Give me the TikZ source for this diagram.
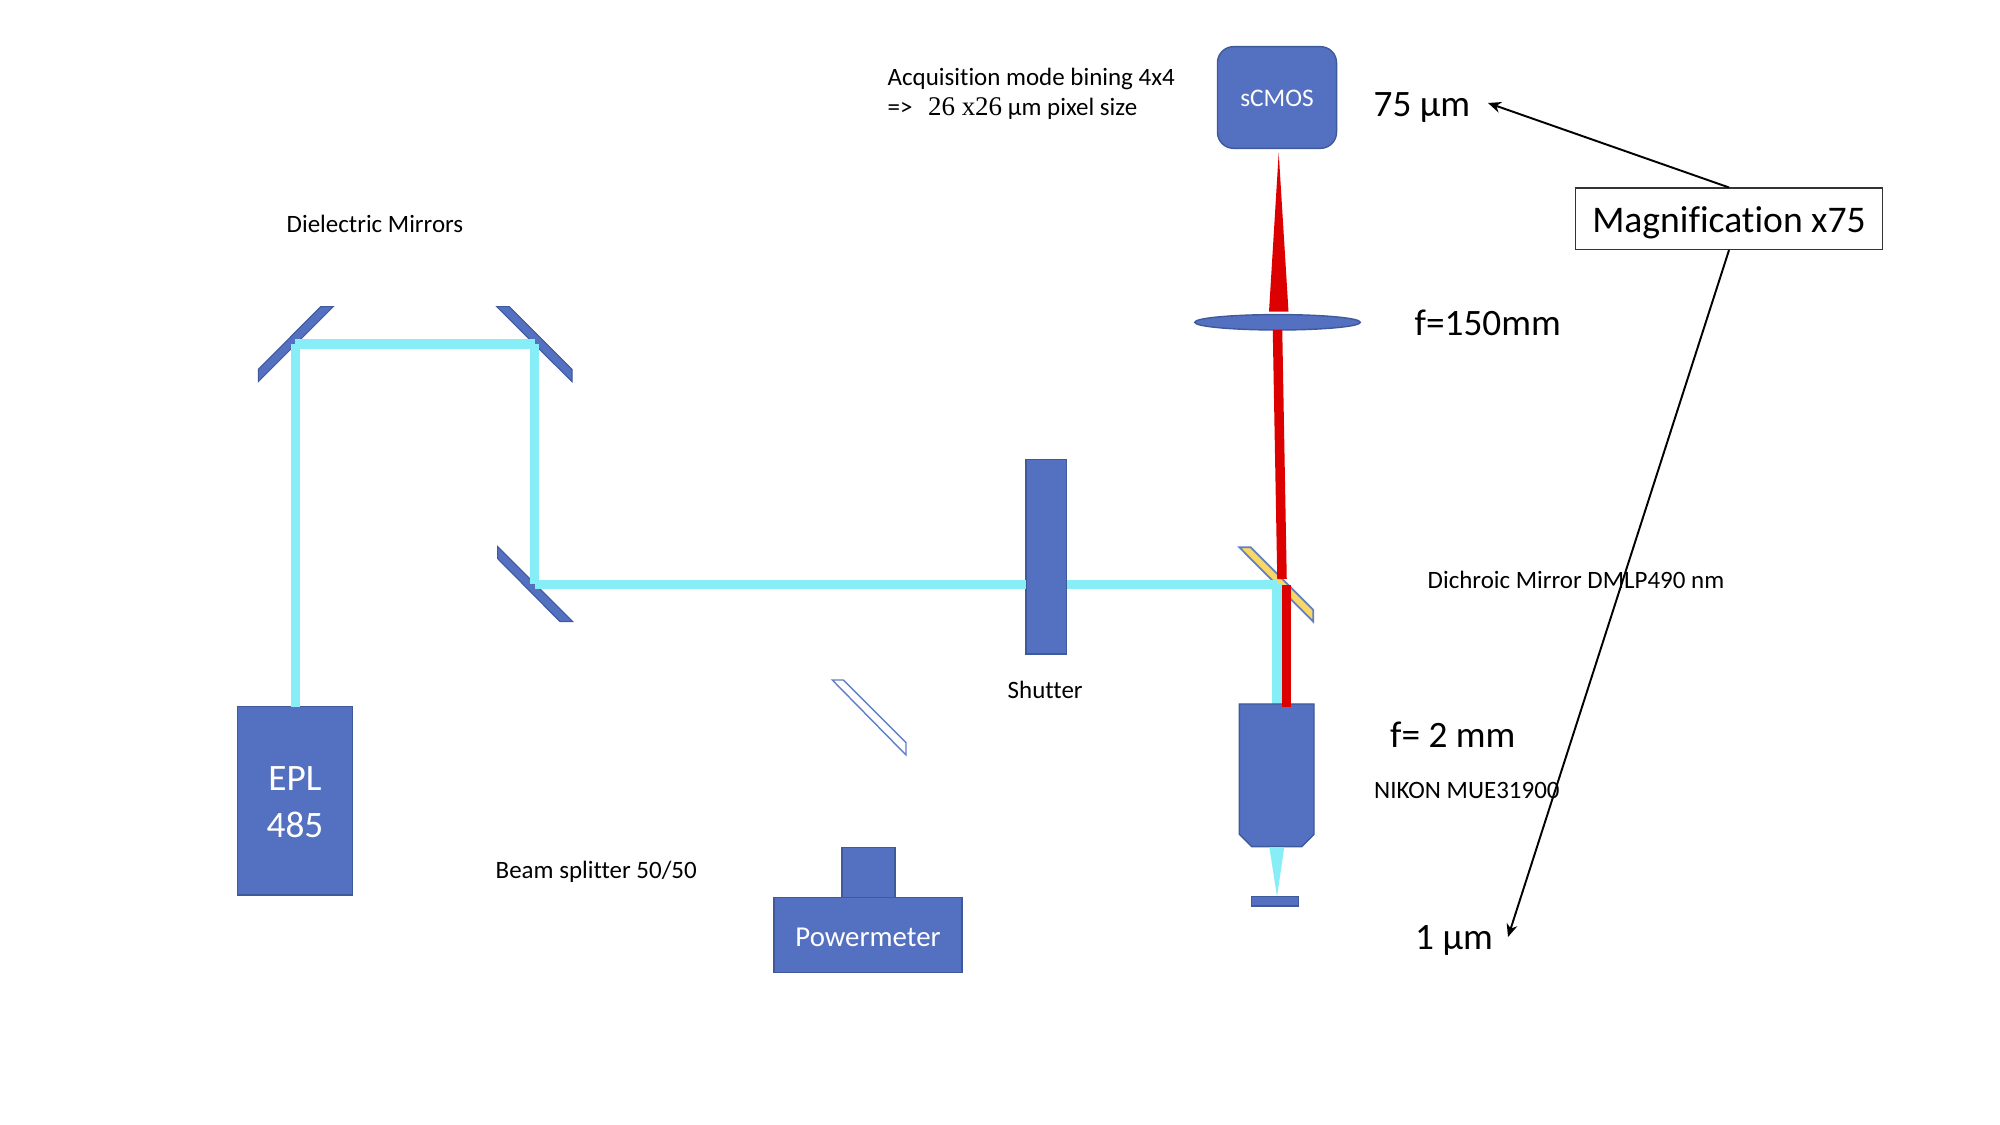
\documentclass[tikz,border=0pt]{standalone}
\usepackage{fontspec}
\setmainfont{Carlito}[Ligatures=NoCommon]
\newfontfamily\mathlike{Liberation Serif}[Scale=1.08]
\usetikzlibrary{arrows.meta,shapes.geometric}
\definecolor{partblue}{HTML}{5470C0}
\definecolor{partedge}{HTML}{3F5A9A}
\definecolor{glassedge}{HTML}{5F7FC8}
\definecolor{beamcyan}{HTML}{87EDF7}
\definecolor{beamred}{HTML}{DD0000}
\definecolor{dichroicgold}{HTML}{F7D765}
\newcommand{\nudge}[2]{\raisebox{-#1}[\height][\depth]{#2}}
\tikzset{
  part/.style={rectangle,draw=partedge,fill=partblue,line width=0.4pt,text=white,inner sep=0pt,outer sep=0pt,align=center},
  optic/.style={draw=partedge,fill=partblue,line width=0.3pt},
  bluebeam/.style={draw=beamcyan,line width=0.093cm},
  redbeam/.style={draw=beamred,line width=0.095cm},
  smalltxt/.style={anchor=base west,inner sep=0pt,font=\fontsize{7.1}{8.5}\selectfont},
  bigtxt/.style={anchor=base west,inner sep=0pt,font=\fontsize{10.6}{12}\selectfont},
  pointer/.style={draw=black,line width=0.55pt,-{Stealth[length=0.13cm,width=0.11cm]}}
}
\begin{document}
\begin{tikzpicture}[x=0.01cm,y=-0.01cm]
  \useasboundingbox (0,0) rectangle (2000,1125);
  % beam points
  \coordinate (mirrorA) at (295.3,344);
  \coordinate (mirrorB) at (534.7,344);
  \coordinate (mirrorC) at (534.7,584.5);
  \coordinate (dichroic) at (1277,584.5);
  \coordinate (redtop) at (1277.5,330);
  \coordinate (redmid) at (1282,579);
  \coordinate (redlow) at (1286.7,585);
  \coordinate (objin) at (1277,704);
  \coordinate (redin) at (1286.7,707);
  \coordinate (eplout) at (295.3,707);
  % mirrors
  \draw[optic] (320.7,306.7) -- (333.3,306.7) -- (258.3,381.7) -- (258.3,369.3) -- cycle;
  \draw[optic] (496.7,306.7) -- (509.3,306.7) -- (572,369.3) -- (572,381.7) -- cycle;
  \draw[optic] (497.7,546.7) -- (497.7,558.7) -- (560,621.7) -- (572.7,621.7) -- cycle;
  \draw[draw=glassedge,fill=dichroicgold,line width=0.5pt] (1239.3,547.3) -- (1250.7,547.3) -- (1313.3,610) -- (1313.3,621.7) -- cycle;
  \draw[draw=glassedge,fill=white,line width=0.4pt] (832.3,680) -- (843.3,680) -- (906,742.7) -- (906,755) -- cycle;
  % parts
  \node[part,minimum width=1.153cm,minimum height=1.883cm,font=\fontsize{10.6}{13.3}\selectfont] (epl) at (295,800.8) {\nudge{1.1pt}{\begin{tabular}{@{}c@{}}EPL\\485\end{tabular}}};
  \node[part,minimum width=0.407cm,minimum height=1.947cm] (shutter) at (1046.3,556.7) {};
  \node[part,minimum width=0.53cm,minimum height=0.496cm] (head) at (868.3,872.5) {};
  \node[part,minimum width=1.88cm,minimum height=0.754cm,font=\fontsize{8.2}{10}\selectfont] (power) at (868,935) {\nudge{0.6pt}{Powermeter}};
  \node[part,rounded corners=0.16cm,minimum width=1.19cm,minimum height=1.016cm,font=\fontsize{7.2}{8.5}\selectfont] (scmos) at (1277,97.5) {\nudge{0.3pt}{sCMOS}};
  \node[part,ellipse,minimum width=1.655cm,minimum height=0.154cm] (lens) at (1277.5,322.3) {};
  % beams
  \draw[bluebeam] (eplout) -- (mirrorA);
  \draw[bluebeam] (mirrorA) -- (mirrorB);
  \draw[bluebeam] (mirrorB) -- (mirrorC);
  \draw[bluebeam] (mirrorC) -- (mirrorC -| shutter.west);
  \draw[bluebeam] (dichroic -| shutter.east) -- (dichroic);
  \draw[bluebeam] (dichroic) -- (objin);
  \draw[redbeam] (redtop) -- (redmid);
  \fill[beamred] (1278.7,152.7) -- (1288.5,311.7) -- (1269,311.7) -- cycle;
  % objective and sample
  \draw[part] (1239.3,704) -- (1314,704) -- (1314,834.3) -- (1301.7,846.7) -- (1251.7,846.7) -- (1239.3,834.3) -- cycle;
  \draw[redbeam] (redlow) -- (redin);
  \fill[beamcyan] (1269.3,847) -- (1284.3,847) -- (1277,896.7) -- cycle;
  \node[part,minimum width=0.47cm,minimum height=0.093cm] (sample) at (1275.2,901.4) {};
  % labels
  \node[smalltxt] (acq1) at (887,85.5) {Acquisition mode bining 4x4};
  \node[smalltxt] (acq2) at (887,116) {=>\hspace{2.8pt} {\mathlike 26 x26} µm pixel size};
  \node[smalltxt] (dielectric) at (286,233) {Dielectric Mirrors};
  \node[smalltxt] (shutterlbl) at (1007,698.3) {Shutter};
  \node[smalltxt] (dichroiclbl) at (1427,589) {Dichroic Mirror DMLP490 nm};
  \node[smalltxt] (nikon) at (1373.5,798) {NIKON MUE31900};
  \node[smalltxt] (splitter) at (495,878.5) {Beam splitter 50/50};
  \node[bigtxt] (um75) at (1373,117) {75 µm};
  \node[bigtxt] (f150) at (1414,336) {f=150mm};
  \node[bigtxt] (f2) at (1389.5,748) {f= 2 mm};
  \node[bigtxt] (um1) at (1414.5,949) {1 µm};
  \node[rectangle,draw=black!80,fill=white,line width=0.45pt,minimum width=3.07cm,minimum height=0.61cm,inner sep=0pt,font=\fontsize{10.7}{12}\selectfont] (mag) at (1729,218.8) {\nudge{1pt}{Magnification x75}};
  \coordinate (tip75) at (1488,103);
  \coordinate (tip1) at (1508,937);
  \draw[pointer] (mag.north) -- (tip75);
  \draw[pointer] (mag.south) -- (tip1);
\end{tikzpicture}
\end{document}
